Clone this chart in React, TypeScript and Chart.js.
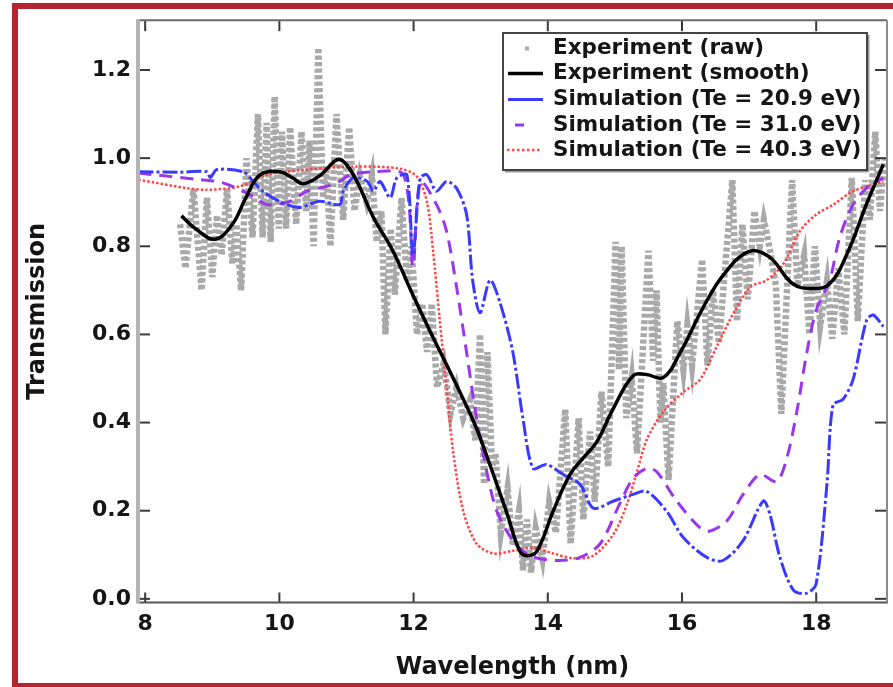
import React, { useEffect, useRef } from "react";
import { Chart, registerables } from "chart.js";
Chart.register(...registerables);

const xTicks = [8, 10, 12, 14, 16, 18];
const yTicks = [0, 0.2, 0.4, 0.6, 0.8, 1.0, 1.2];

const legendLabels = [
  "Experiment (raw)",
  "Experiment (smooth)",
  "Simulation (Te = 20.9 eV)",
  "Simulation (Te = 31.0 eV)",
  "Simulation (Te = 40.3 eV)",
];

// Experiment (raw): local peaks / troughs of the oscillating signal
const rawX = [8.52, 8.6, 8.72, 8.84, 8.92, 9.0, 9.07, 9.14, 9.22, 9.3, 9.36, 9.43, 9.51, 9.6, 9.68, 9.75, 9.81, 9.87, 9.93, 9.99, 10.04, 10.1, 10.16, 10.25, 10.33, 10.4, 10.45, 10.51, 10.58, 10.65, 10.7, 10.76, 10.85, 10.95, 11.04, 11.12, 11.2, 11.3, 11.38, 11.45, 11.52, 11.58, 11.66, 11.72, 11.82, 11.9, 11.97, 12.05, 12.13, 12.2, 12.27, 12.35, 12.45, 12.55, 12.64, 12.74, 12.84, 12.92, 12.99, 13.05, 13.1, 13.17, 13.22, 13.3, 13.4, 13.48, 13.57, 13.63, 13.69, 13.75, 13.82, 13.92, 14.02, 14.12, 14.26, 14.34, 14.46, 14.53, 14.63, 14.7, 14.8, 14.9, 15.01, 15.06, 15.1, 15.17, 15.25, 15.33, 15.5, 15.57, 15.62, 15.68, 15.72, 15.8, 15.93, 16.02, 16.08, 16.15, 16.3, 16.38, 16.46, 16.55, 16.75, 16.82, 16.9, 16.98, 17.08, 17.16, 17.22, 17.3, 17.4, 17.48, 17.64, 17.72, 17.82, 17.9, 17.98, 18.06, 18.16, 18.24, 18.33, 18.42, 18.53, 18.62, 18.73, 18.8, 18.88, 18.95, 19.02];
const rawY = [0.85, 0.75, 0.93, 0.7, 0.91, 0.73, 0.87, 0.78, 0.93, 0.76, 0.85, 0.7, 1.0, 0.82, 1.1, 0.82, 1.08, 0.81, 1.14, 0.84, 1.06, 0.84, 1.07, 0.85, 1.06, 0.88, 1.04, 0.8, 1.25, 0.91, 0.98, 0.8, 1.1, 0.86, 1.07, 0.88, 0.96, 0.9, 0.96, 0.81, 0.88, 0.6, 0.84, 0.69, 0.91, 0.72, 0.8, 0.6, 0.67, 0.56, 0.67, 0.48, 0.535, 0.42, 0.48, 0.41, 0.45, 0.36, 0.6, 0.26, 0.56, 0.3, 0.33, 0.15, 0.25, 0.12, 0.2, 0.065, 0.18, 0.06, 0.16, 0.09, 0.22, 0.15, 0.43, 0.125, 0.41, 0.18, 0.38, 0.22, 0.47, 0.3, 0.81, 0.52, 0.8, 0.41, 0.5, 0.33, 0.79, 0.54, 0.7, 0.4, 0.49, 0.27, 0.63, 0.52, 0.62, 0.53, 0.77, 0.53, 0.7, 0.58, 0.95, 0.63, 0.85, 0.68, 0.88, 0.8, 0.86, 0.8, 0.71, 0.42, 0.95, 0.71, 0.78, 0.6, 0.8, 0.62, 0.72, 0.59, 0.75, 0.6, 0.955, 0.63, 0.95, 0.86, 1.06, 0.88, 1.0];

// Experiment (smooth)
const smoothX = [8.54, 8.75, 9.04, 9.3, 9.5, 9.71, 10.0, 10.2, 10.35, 10.6, 10.87, 11.0, 11.16, 11.4, 11.69, 12.0, 12.3, 12.5, 12.75, 12.94, 13.1, 13.24, 13.4, 13.58, 13.69, 13.84, 14.08, 14.33, 14.53, 14.73, 14.97, 15.27, 15.47, 15.72, 15.97, 16.27, 16.5, 16.67, 16.85, 17.04, 17.2, 17.36, 17.65, 17.95, 18.2, 18.46, 18.75, 19.0];
const smoothY = [0.869, 0.84, 0.816, 0.85, 0.91, 0.962, 0.969, 0.955, 0.942, 0.96, 0.997, 0.985, 0.946, 0.866, 0.79, 0.686, 0.59, 0.529, 0.45, 0.386, 0.32, 0.26, 0.19, 0.109, 0.098, 0.109, 0.199, 0.282, 0.32, 0.356, 0.43, 0.506, 0.509, 0.502, 0.558, 0.648, 0.71, 0.745, 0.775, 0.79, 0.785, 0.768, 0.715, 0.704, 0.715, 0.783, 0.896, 0.986];

// Simulation Te = 20.9 eV
const te209X = [7.9, 8.5, 8.92, 8.97, 9.07, 9.46, 9.61, 9.76, 10.0, 10.3, 10.6, 10.9, 10.95, 11.1, 11.31, 11.4, 11.5, 11.65, 11.75, 11.9, 11.99, 12.1, 12.2, 12.34, 12.49, 12.64, 12.79, 12.88, 12.99, 13.14, 13.29, 13.48, 13.63, 13.78, 13.98, 14.23, 14.48, 14.68, 14.98, 15.27, 15.47, 15.77, 16.02, 16.37, 16.61, 16.91, 17.21, 17.31, 17.46, 17.66, 17.86, 18.0, 18.16, 18.25, 18.4, 18.55, 18.75, 18.85, 19.0];
const te209Y = [0.969, 0.968, 0.969, 0.956, 0.974, 0.969, 0.947, 0.924, 0.902, 0.888, 0.902, 0.895, 0.924, 0.955, 0.947, 0.925, 0.947, 0.91, 0.955, 0.962, 0.78, 0.955, 0.962, 0.925, 0.947, 0.932, 0.872, 0.723, 0.649, 0.723, 0.671, 0.559, 0.409, 0.296, 0.305, 0.282, 0.26, 0.206, 0.222, 0.237, 0.244, 0.199, 0.139, 0.094, 0.087, 0.132, 0.222, 0.192, 0.094, 0.02, 0.013, 0.035, 0.26, 0.44, 0.453, 0.498, 0.632, 0.644, 0.618];

// Simulation Te = 31.0 eV
const te310X = [7.9, 8.82, 9.16, 9.56, 9.81, 10.16, 10.41, 10.7, 10.9, 11.05, 11.4, 11.85, 11.99, 12.1, 12.34, 12.49, 12.64, 12.79, 12.94, 13.09, 13.24, 13.48, 13.73, 14.13, 14.48, 14.78, 15.07, 15.27, 15.47, 15.62, 15.92, 16.27, 16.42, 16.67, 16.91, 17.16, 17.41, 17.56, 17.71, 17.86, 18.0, 18.2, 18.35, 18.55, 18.75, 19.0];
const te310Y = [0.966, 0.951, 0.944, 0.917, 0.895, 0.902, 0.925, 0.936, 0.947, 0.962, 0.969, 0.962, 0.754, 0.947, 0.895, 0.835, 0.708, 0.559, 0.409, 0.289, 0.199, 0.132, 0.098, 0.087, 0.094, 0.125, 0.215, 0.273, 0.296, 0.289, 0.222, 0.161, 0.154, 0.177, 0.237, 0.282, 0.266, 0.318, 0.424, 0.559, 0.655, 0.723, 0.82, 0.895, 0.932, 0.955];

// Simulation Te = 40.3 eV
const te403X = [7.9, 8.62, 8.92, 9.41, 9.81, 10.41, 11.16, 11.8, 12.05, 12.2, 12.29, 12.39, 12.49, 12.59, 12.74, 12.94, 13.19, 13.48, 13.78, 14.08, 14.38, 14.68, 14.98, 15.18, 15.33, 15.48, 15.72, 16.02, 16.27, 16.52, 16.77, 17.02, 17.26, 17.51, 17.76, 18.0, 18.26, 18.55, 19.0];
const te403Y = [0.951, 0.932, 0.928, 0.936, 0.962, 0.974, 0.981, 0.976, 0.958, 0.9, 0.79, 0.632, 0.483, 0.334, 0.199, 0.125, 0.103, 0.109, 0.116, 0.103, 0.092, 0.098, 0.147, 0.215, 0.289, 0.363, 0.424, 0.469, 0.498, 0.573, 0.649, 0.708, 0.723, 0.76, 0.835, 0.872, 0.895, 0.925, 0.947];

const FONT = "'DejaVu Sans', sans-serif";
const C_RAW = "#a9a9a9";
const C_BLACK = "#000000";
const C_BLUE = "#3a3aff";
const C_PURPLE = "#9a36ee";
const C_RED = "#ff4545";

const pts = (xs: number[], ys: number[]) => xs.map((x, i) => ({ x, y: ys[i] }));

export default function App() {
  const ref = useRef<HTMLCanvasElement | null>(null);

  useEffect(() => {
    if (!ref.current) return;

    const framePlugin = {
      id: "frame",
      afterDatasetsDraw(chart: any) {
        const { ctx, chartArea: a, scales } = chart;
        const ln = (x1: number, y1: number, x2: number, y2: number) => {
          ctx.beginPath();
          ctx.moveTo(x1, y1);
          ctx.lineTo(x2, y2);
          ctx.stroke();
        };
        ctx.save();
        ctx.setLineDash([]);
        // inward ticks
        ctx.strokeStyle = "#3a3a3a";
        ctx.lineWidth = 2;
        xTicks.forEach((v) => {
          const px = scales.x.getPixelForValue(v);
          ln(px, a.bottom, px, a.bottom - 10);
          ln(px, a.top, px, a.top + 11);
        });
        yTicks.forEach((v) => {
          const py = scales.y.getPixelForValue(v);
          ln(a.left, py, a.left + 12, py);
          ln(a.right, py, a.right - 12, py);
        });
        // frame
        ctx.strokeStyle = "#6a6a6a";
        ctx.lineWidth = 2;
        ln(a.left, a.top, a.right, a.top);
        ctx.strokeStyle = "#555555";
        ln(a.left, a.bottom, a.right + 1, a.bottom);
        ctx.strokeStyle = "#8a8a8a";
        ln(a.right, a.top, a.right, a.bottom);
        ctx.strokeStyle = "#b4b4b4";
        ctx.lineWidth = 4;
        ln(a.left, a.top - 1, a.left, a.bottom + 1);

        // legend
        const bx = 503, by = 33, bw = 364, bh = 137;
        ctx.fillStyle = "#ffffff";
        ctx.fillRect(bx, by, bw, bh);
        ctx.strokeStyle = "#9a9a9a";
        ctx.lineWidth = 2;
        ln(bx + 2, by + bh + 1.5, bx + bw + 1.5, by + bh + 1.5);
        ln(bx + bw + 1.5, by + 2, bx + bw + 1.5, by + bh + 1.5);
        ctx.strokeStyle = "#444444";
        ctx.lineWidth = 2;
        ctx.strokeRect(bx, by, bw, bh);

        const rows = [48.5, 73.5, 99.5, 125, 150];
        ctx.font = `bold 21.5px ${FONT}`;
        ctx.fillStyle = "#151515";
        ctx.textBaseline = "middle";
        ctx.textAlign = "left";
        legendLabels.forEach((t, i) => ctx.fillText(t, 553, rows[i]));

        ctx.fillStyle = C_RAW;
        ctx.fillRect(525, rows[0] - 2, 4, 4);
        ctx.lineCap = "butt";
        ctx.strokeStyle = C_BLACK;
        ctx.lineWidth = 3.5;
        ln(508, rows[1], 543, rows[1]);
        ctx.strokeStyle = C_BLUE;
        ctx.lineWidth = 3;
        ln(508, rows[2], 543, rows[2]);
        ctx.strokeStyle = C_PURPLE;
        ln(515, rows[3], 524, rows[3]);
        ctx.strokeStyle = C_RED;
        ctx.lineWidth = 2.5;
        ctx.setLineDash([2.5, 2.5]);
        ln(507, rows[4], 541, rows[4]);
        ctx.restore();
      },
    };

    const chart = new Chart(ref.current, {
      type: "line",
      data: {
        datasets: [
          {
            label: legendLabels[0],
            data: pts(rawX, rawY),
            borderColor: C_RAW,
            borderWidth: 6.5,
            borderDash: [4, 2.5],
            tension: 0,
            pointRadius: 0,
            order: 5,
          },
          {
            label: legendLabels[1],
            data: pts(smoothX, smoothY),
            borderColor: C_BLACK,
            borderWidth: 3.5,
            tension: 0.4,
            pointRadius: 0,
            order: 1,
          },
          {
            label: legendLabels[2],
            data: pts(te209X, te209Y),
            borderColor: C_BLUE,
            borderWidth: 3,
            borderDash: [15, 3, 3, 3],
            tension: 0.3,
            pointRadius: 0,
            order: 2,
          },
          {
            label: legendLabels[3],
            data: pts(te310X, te310Y),
            borderColor: C_PURPLE,
            borderWidth: 3,
            borderDash: [13, 8],
            tension: 0.3,
            pointRadius: 0,
            order: 3,
          },
          {
            label: legendLabels[4],
            data: pts(te403X, te403Y),
            borderColor: C_RED,
            borderWidth: 2.5,
            borderDash: [2.5, 2],
            tension: 0.3,
            pointRadius: 0,
            order: 4,
          },
        ],
      },
      options: {
        animation: false,
        responsive: false,
        maintainAspectRatio: false,
        layout: { padding: { left: 0, top: 14, right: 6, bottom: 0 } },
        plugins: { legend: { display: false }, tooltip: { enabled: false } },
        scales: {
          x: {
            type: "linear",
            min: 7.893,
            max: 19.055,
            grid: { display: false, drawTicks: false },
            border: { display: false },
            afterBuildTicks: (s: any) => {
              s.ticks = xTicks.map((v) => ({ value: v }));
            },
            afterFit: (s: any) => {
              s.height = 84.5;
            },
            ticks: {
              padding: 9,
              color: "#151515",
              autoSkip: false,
              maxRotation: 0,
              font: { family: FONT, size: 22, weight: "bold" },
              callback: (v: any) => String(v),
            },
            title: {
              display: true,
              text: "Wavelength (nm)",
              color: "#151515",
              font: { family: FONT, size: 24, weight: "bold" },
              padding: { top: 0, bottom: 4.5 },
            },
          },
          y: {
            type: "linear",
            min: -0.0083,
            max: 1.313,
            grid: { display: false, drawTicks: false },
            border: { display: false },
            afterBuildTicks: (s: any) => {
              s.ticks = yTicks.map((v) => ({ value: v }));
            },
            afterFit: (s: any) => {
              s.width = 138;
            },
            ticks: {
              padding: 7,
              color: "#151515",
              autoSkip: false,
              font: { family: FONT, size: 22, weight: "bold" },
              callback: (v: any) => Number(v).toFixed(1),
            },
            title: {
              display: true,
              text: "Transmission",
              color: "#151515",
              font: { family: FONT, size: 24, weight: "bold" },
              padding: { top: 23, bottom: 0 },
            },
          },
        },
      },
      plugins: [framePlugin],
    } as any);

    return () => chart.destroy();
  }, []);

  return (
    <div
      style={{
        position: "fixed",
        left: 0,
        top: 0,
        width: 893,
        height: 687,
        overflow: "hidden",
        background: "#ffffff",
      }}
    >
      <canvas
        ref={ref}
        width={893}
        height={687}
        style={{ position: "absolute", left: 0, top: 0, width: 893, height: 687 }}
      />
      <div
        style={{
          position: "absolute",
          left: 12,
          top: 3,
          width: 895,
          height: 686,
          boxSizing: "border-box",
          border: "6px solid #b3262f",
          pointerEvents: "none",
        }}
      />
    </div>
  );
}
